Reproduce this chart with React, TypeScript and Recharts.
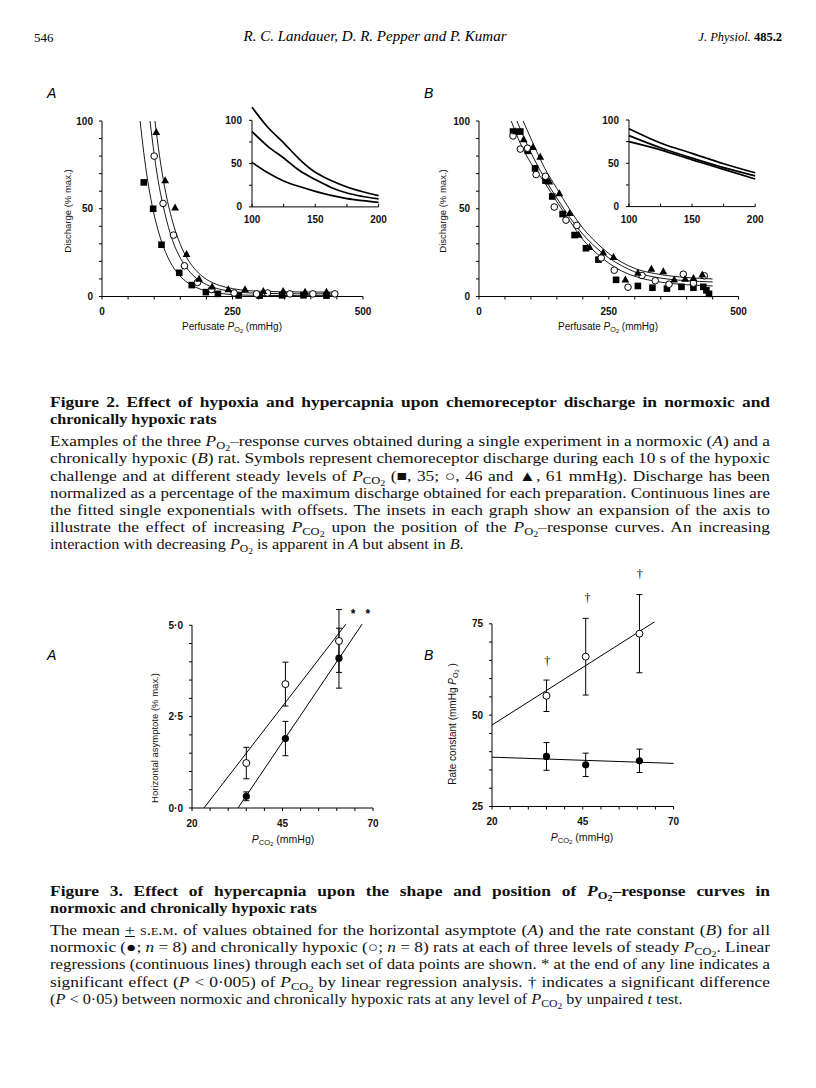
import React, { useLayoutEffect, useRef, useState } from 'react';
import { ComposedChart, Line, Scatter, XAxis, YAxis, ErrorBar, ReferenceLine } from 'recharts';

// ---- Figure 2: perfusate PO2 (mmHg) vs discharge (% max.) ----
// A: normoxic rat, symbols at PCO2 35 (squares), 46 (open circles), 61 (triangles)
const a35Points = [[80, 65], [98, 50], [114, 29.5], [148, 13.5], [172, 6.5], [199, 2.5], [222, 1.5], [262, 0.6], [302, 0.5], [345, 0.7], [386, 0.7], [430, 0.5]];
const a46Points = [[100, 80], [117, 53], [137, 35], [158, 17.5], [183, 8], [210, 4], [253, 2], [296, 1.5], [317, 2], [360, 1.5], [404, 1.5], [446, 1.5]];
const a61Points = [[104, 93.5], [121, 66], [140, 50.5], [162, 24], [186, 10], [211, 5.5], [242, 4], [274, 4], [309, 3], [347, 3], [389, 2.5], [430, 2.5]];
const a35Fit = [[73, 100], [80, 82], [87, 67], [96, 52], [105, 40.4], [114, 31.4], [130, 20], [147, 12.5], [165, 7.7], [180, 5.2], [200, 3.1], [225, 1.8], [250, 1.1], [300, 0.65], [375, 0.5], [450, 0.5]];
const a46Fit = [[92, 100], [100, 81], [110, 62], [120, 48], [135, 32], [150, 22], [165, 15.2], [180, 10.6], [200, 6.8], [225, 4.2], [250, 2.9], [300, 1.85], [375, 1.55], [450, 1.5]];
const a61Fit = [[101.5, 100], [110, 80.5], [120, 62.4], [135, 42.9], [150, 29.7], [165, 20.8], [180, 14.9], [200, 9.8], [225, 6.3], [250, 4.5], [300, 3], [375, 2.6], [450, 2.5]];
// inset A (100-200 mmHg)
const a35Inset = [[100, 51.5], [112.5, 39.5], [125, 30], [137.5, 23.5], [150, 18], [162.5, 13.3], [175, 9.6], [187.5, 7.2], [200, 5.2]];
const a46Inset = [[100, 87], [112.5, 70], [125, 56.5], [137.5, 42], [150, 31.5], [162.5, 22.5], [175, 16], [187.5, 12], [200, 9.2]];
const a61Inset = [[100, 115], [112.5, 92], [125, 74], [137.5, 55], [150, 40], [162.5, 30.5], [175, 23], [187.5, 17.5], [200, 13]];

// B: chronically hypoxic rat
const b35Points = [[65.5, 94], [79.5, 94], [94, 83], [108, 73], [128, 66], [141, 57], [161, 47], [184, 35], [206, 27.5], [230, 21], [264, 9.5], [306, 6], [334, 5], [362, 4.5], [390, 5.5], [413, 5], [432, 5.5], [438, 3.5], [443, 1.5]];
const b46Points = [[65.5, 91.5], [79.5, 84], [93.5, 84.5], [110, 69.5], [128, 68.5], [145, 51], [167.5, 43.5], [188.5, 40.5], [235.5, 22], [260.5, 15], [287, 5.3], [314, 12], [339.5, 9], [366, 7], [393.5, 12.7], [413, 7.6], [434, 11.8]];
const b61Points = [[71, 94], [86, 89.5], [104, 85], [118, 79.5], [135.5, 65.3], [154.7, 58.7], [174.5, 47.4], [192, 35], [213, 28], [239, 25], [259, 22.4], [282, 9.5], [306, 13.3], [332, 15.7], [355, 14.2], [376, 9.5], [397, 10], [413, 10.4], [430, 12.3]];
const bTopFit = [[85, 100], [100, 90], [125, 74], [150, 61.5], [175, 49.5], [200, 39], [225, 31], [250, 24.5], [275, 19.5], [300, 16], [350, 12.5], [400, 10.8], [450, 10]];
const bMidFit = [[73, 100], [100, 82], [125, 68], [150, 56], [175, 45], [200, 35.5], [225, 28], [250, 22], [275, 17.5], [300, 14], [350, 10.5], [400, 9], [450, 8.3]];
const bLowFit = [[62, 100], [80, 87], [100, 76], [125, 65.5], [150, 54], [175, 43], [200, 32.5], [225, 25], [250, 19], [275, 14.5], [300, 11.5], [350, 8.2], [400, 6.7], [450, 6]];
const bTopInset = [[100, 90], [125, 73.5], [150, 61.5], [175, 49.5], [200, 39]];
const bMidInset = [[100, 82], [125, 68], [150, 56], [175, 45], [200, 35.5]];
const bLowInset = [[100, 75], [125, 65.5], [150, 54], [175, 43], [200, 31.8]];

// ---- Figure 3: PCO2 (mmHg) ----
const pco2Levels = [35, 45.8, 60.6];
const asymHypoxic = [1.23, 3.39, 4.57];
const asymHypoxicSem = [0.43, 0.6, 0.86];
const asymNormoxic = [0.32, 1.9, 4.1];
const asymNormoxicSem = [0.12, 0.47, 0.82];
const asymHypoxicFit = [[23.3, 0], [62.5, 5.03]];
const asymNormoxicFit = [[32.7, 0], [67, 5.03]];
const asymStars = [[64.5, 5.34], [68.6, 5.34]];

const rateHypoxic = [55.3, 66.0, 72.3];
const rateHypoxicSem = [4.3, 10.5, 10.7];
const rateNormoxic = [38.7, 36.4, 37.5];
const rateNormoxicSem = [3.8, 3.2, 3.2];
const rateHypoxicFit = [[20, 47.3], [64.7, 75.5]];
const rateNormoxicFit = [[20, 38.5], [70, 36.8]];
const rateDaggers = [[35.2, 64.9], [46.3, 82], [60.7, 88.7]];

// tick values
const po2Ticks = [0, 50, 100, 150, 200, 250, 300, 350, 400, 450, 500];
const po2Labels = [0, 250, 500];
const dischargeTicks = [0, 10, 20, 30, 40, 50, 60, 70, 80, 90, 100];
const dischargeLabels = [0, 50, 100];
const insetXTicks = [100, 125, 150, 175, 200];
const insetXLabels = [100, 150, 200];
const insetYTicks = [0, 25, 50, 75, 100];
const insetYLabels = [0, 50, 100];
const pco2Ticks = [20, 25, 30, 35, 40, 45, 50, 55, 60, 65, 70];
const pco2Labels = [20, 45, 70];
const asymTicks = [0, 0.5, 1, 1.5, 2, 2.5, 3, 3.5, 4, 4.5, 5];
const asymLabels = [0, 2.5, 5];
const rateTicks = [25, 30, 35, 40, 45, 50, 55, 60, 65, 70, 75];
const rateLabels = [25, 50, 75];

const xy = (rows: number[][]) => rows.map(([x, y]) => ({ x, y }));
const withErr = (ys: number[], errs: number[]) => pco2Levels.map((x, i) => ({ x, y: ys[i], err: errs[i] }));

const SANS = '"Liberation Sans", Arial, Helvetica, sans-serif';
const SERIF = '"Liberation Serif", "Times New Roman", serif';
const tickFont = { fontFamily: SANS, fontSize: 10, fontWeight: 'bold' as const, fill: '#111' };

const PAD = { l: 40, t: 8, r: 12, b: 26 };
function frame(x0: number, y0: number, x1: number, y1: number) {
  return {
    style: { position: 'absolute' as const, left: x0 - PAD.l, top: y0 - PAD.t },
    width: x1 - x0 + PAD.l + PAD.r,
    height: y1 - y0 + PAD.t + PAD.b,
    margin: { top: PAD.t, right: PAD.r, left: 0, bottom: 0 },
  };
}

const fmtDot = (v: number) => v.toFixed(1).replace('.', '\u00b7');
const fmtInt = (v: number) => String(v);

function yTick(labels: number[], fmt: (v: number) => string, gap = 9) {
  return (p: any) => {
    const v = p.payload.value;
    return (
      <g>
        <line x1={p.x} x2={p.x - 3} y1={p.y} y2={p.y} stroke="#000" strokeWidth={1} />
        {labels.includes(v) && (
          <text x={p.x - gap} y={p.y} dy={3.6} textAnchor="end" style={tickFont}>{fmt(v)}</text>
        )}
      </g>
    );
  };
}
function xTick(labels: number[], fmt: (v: number) => string, len = 3, gap = 14.5) {
  return (p: any) => {
    const v = p.payload.value;
    return (
      <g>
        <line x1={p.x} x2={p.x} y1={p.y} y2={p.y + len} stroke="#000" strokeWidth={1} />
        {labels.includes(v) && (
          <text x={p.x} y={p.y + gap} dy={3.6} textAnchor="middle" style={tickFont}>{fmt(v)}</text>
        )}
      </g>
    );
  };
}

const Square = (p: any) => <rect x={p.cx - 3.3} y={p.cy - 3.3} width={6.6} height={6.6} fill="#000" />;
const Ring = (p: any) => <circle cx={p.cx} cy={p.cy} r={3.3} fill="#fff" stroke="#000" strokeWidth={1} />;
const Tri = (p: any) => <path d={`M${p.cx},${p.cy - 4.3}L${p.cx + 3.9},${p.cy + 2.7}L${p.cx - 3.9},${p.cy + 2.7}Z`} fill="#000" />;
const BigRing = (p: any) => <circle cx={p.cx} cy={p.cy} r={3.5} fill="#fff" stroke="#000" strokeWidth={1} />;
const BigDot = (p: any) => <circle cx={p.cx} cy={p.cy} r={3.6} fill="#000" />;
const Star = (p: any) => <text x={p.cx} y={p.cy} dy={5} textAnchor="middle" fill="#000" style={{ fontFamily: SANS, fontSize: 12, fontWeight: 'bold' }}>*</text>;
const Dagger = (p: any) => <text x={p.cx} y={p.cy} dy={4} textAnchor="middle" fill="#000" style={{ fontFamily: SERIF, fontSize: 12 }}>{'\u2020'}</text>;

function fitLine(rows: number[][], width = 1) {
  return <Line data={xy(rows)} dataKey="y" type="monotone" stroke="#000" strokeWidth={width} dot={false} isAnimationActive={false} />;
}

function DischargePanel({ x0, x1, fits, squares, rings, tris }: any) {
  const f = frame(x0, 121, x1, 296.5);
  return (
    <div style={f.style}>
      <ComposedChart width={f.width} height={f.height} margin={f.margin}>
        <XAxis dataKey="x" type="number" domain={[0, 500]} ticks={po2Ticks} interval={0} height={PAD.b}
          tickSize={0} tickMargin={0} tickLine={false} axisLine={{ stroke: '#000' }} tick={xTick(po2Labels, fmtInt)} />
        <YAxis dataKey="y" type="number" domain={[0, 100]} ticks={dischargeTicks} interval={0} width={PAD.l}
          tickSize={0} tickMargin={0} tickLine={false} axisLine={{ stroke: '#000' }} tick={yTick(dischargeLabels, fmtInt)} />
        {fits.map((r: number[][], i: number) => <React.Fragment key={i}>{fitLine(r, 0.9)}</React.Fragment>)}
        <Scatter data={xy(squares)} dataKey="y" shape={Square} isAnimationActive={false} />
        <Scatter data={xy(rings)} dataKey="y" shape={Ring} isAnimationActive={false} />
        <Scatter data={xy(tris)} dataKey="y" shape={Tri} isAnimationActive={false} />
      </ComposedChart>
    </div>
  );
}

function InsetPanel({ x0, x1, yTop, yBottom, yMax, fits }: any) {
  const f = frame(x0, yTop, x1, yBottom);
  return (
    <div style={f.style}>
      <ComposedChart width={f.width} height={f.height} margin={f.margin}>
        <XAxis dataKey="x" type="number" domain={[100, 200]} ticks={insetXTicks} interval={0} height={PAD.b}
          tickSize={0} tickMargin={0} tickLine={false} axisLine={{ stroke: '#000' }} tick={xTick(insetXLabels, fmtInt, -3, 13)} />
        <YAxis dataKey="y" type="number" domain={[0, yMax]} ticks={insetYTicks} interval={0} width={PAD.l}
          tickSize={0} tickMargin={0} tickLine={false} axisLine={false} tick={yTick(insetYLabels, fmtInt, 10)} />
        <ReferenceLine segment={[{ x: 100, y: 0 }, { x: 100, y: 100 }]} stroke="#000" strokeWidth={1} />
        {fits.map((r: number[][], i: number) => <React.Fragment key={i}>{fitLine(r, 1.7)}</React.Fragment>)}
      </ComposedChart>
    </div>
  );
}

function Pco2Panel({ x0, x1, yTop, yBottom, domain, ticks, labels, fmt, axisTop, hyp, norm, hypFit, normFit, marks, markShape }: any) {
  const f = frame(x0, yTop, x1, yBottom);
  return (
    <div style={f.style}>
      <ComposedChart width={f.width} height={f.height} margin={f.margin}>
        <XAxis dataKey="x" type="number" domain={[20, 70]} ticks={pco2Ticks} interval={0} height={PAD.b}
          tickSize={0} tickMargin={0} tickLine={false} axisLine={{ stroke: '#000' }} tick={xTick(pco2Labels, fmtInt, 3, 15)} />
        <YAxis dataKey="y" type="number" domain={domain} ticks={ticks} interval={0} width={PAD.l}
          tickSize={0} tickMargin={0} tickLine={false} axisLine={false} tick={yTick(labels, fmt)} />
        <ReferenceLine segment={[{ x: 20, y: domain[0] }, { x: 20, y: axisTop }]} stroke="#000" strokeWidth={1} />
        {fitLine(hypFit, 1)}
        {fitLine(normFit, 1)}
        <Scatter data={hyp} dataKey="y" shape={BigRing} isAnimationActive={false}>
          <ErrorBar dataKey="err" direction="y" width={3} stroke="#000" strokeWidth={1} />
        </Scatter>
        <Scatter data={norm} dataKey="y" shape={BigDot} isAnimationActive={false}>
          <ErrorBar dataKey="err" direction="y" width={3} stroke="#000" strokeWidth={1} />
        </Scatter>
        <Scatter data={xy(marks)} dataKey="y" shape={markShape} isAnimationActive={false} />
      </ComposedChart>
    </div>
  );
}

const subS: React.CSSProperties = { fontSize: '0.72em', verticalAlign: '-0.3em', lineHeight: 0, fontStyle: 'normal' };
const sub2S: React.CSSProperties = { fontSize: '0.8em', verticalAlign: '-0.2em', lineHeight: 0 };
const PO2 = () => <><i>P</i><span style={subS}>O<span style={sub2S}>2</span></span></>;
const PCO2 = () => <><i>P</i><span style={subS}>CO<span style={sub2S}>2</span></span></>;

function Abs({ x, y, children, style }: any) {
  return <div style={{ position: 'absolute', left: x, top: y, whiteSpace: 'nowrap', ...style }}>{children}</div>;
}
function AxisTitle({ cx, cy, rotate, size = 9.5, children }: any) {
  return (
    <div style={{
      position: 'absolute', left: cx, top: cy, whiteSpace: 'nowrap', fontFamily: SANS, fontSize: size, color: '#111',
      lineHeight: 1, transform: `translate(-50%, -50%)${rotate ? ' rotate(-90deg)' : ''}`,
    }}>{children}</div>
  );
}

// caption line: measured once, stretched a little (the print face is wider), then justified to 720px
function CapLine({ y, bold, last, children }: any) {
  const ref = useRef<HTMLSpanElement>(null);
  const [fit, setFit] = useState<{ sx: number; ws: number } | null>(null);
  useLayoutEffect(() => {
    if (!ref.current) return;
    const w = ref.current.getBoundingClientRect().width;
    if (last) { setFit({ sx: 1.12, ws: 0 }); return; }
    const spaces = ((ref.current.textContent || '').match(/ /g) || []).length || 1;
    const sx = Math.min(1.2, 720 / w);
    setFit({ sx, ws: (720 / sx - w) / spaces });
  }, []);
  return (
    <div style={{
      position: 'absolute', left: 50, top: y - 9, height: 18, lineHeight: '18px', whiteSpace: 'nowrap',
      fontFamily: SERIF, fontSize: 14.5, fontWeight: bold ? 'bold' : 'normal', color: '#111',
    }}>
      <span ref={ref} style={{
        display: 'inline-block', transformOrigin: '0 50%',
        transform: fit ? `scaleX(${fit.sx})` : undefined, wordSpacing: fit ? fit.ws : 0,
      }}>
        {children}
      </span>
    </div>
  );
}

export default function App() {
  return (
    <div style={{ position: 'absolute', left: 0, top: 0, width: 816, height: 1088, background: '#fff', overflow: 'hidden' }}>
      {/* running head */}
      <Abs x={34} y={30} style={{ fontFamily: SERIF, fontSize: 13 }}>546</Abs>
      <Abs x={375} y={28} style={{ fontFamily: SERIF, fontSize: 15, fontStyle: 'italic', transform: 'translateX(-50%)' }}>
        R. C. Landauer, D. R. Pepper and P. Kumar
      </Abs>
      <div style={{ position: 'absolute', right: 34, top: 30, fontFamily: SERIF, fontSize: 12.5, whiteSpace: 'nowrap' }}>
        <i>J. Physiol.</i> <b>485.2</b>
      </div>

      {/* Figure 2 */}
      <Abs x={47} y={85} style={{ fontFamily: SANS, fontSize: 14, fontStyle: 'italic' }}>A</Abs>
      <Abs x={424} y={85} style={{ fontFamily: SANS, fontSize: 14, fontStyle: 'italic' }}>B</Abs>
      <DischargePanel x0={102} x1={363} fits={[a35Fit, a46Fit, a61Fit]} squares={a35Points} rings={a46Points} tris={a61Points} />
      <InsetPanel x0={251.7} x1={378.3} yTop={103.4} yBottom={207.3} yMax={120} fits={[a35Inset, a46Inset, a61Inset]} />
      <DischargePanel x0={478.7} x1={738.3} fits={[bLowFit, bMidFit, bTopFit]} squares={b35Points} rings={b46Points} tris={b61Points} />
      <InsetPanel x0={628.5} x1={754.7} yTop={119.7} yBottom={206.3} yMax={100} fits={[bLowInset, bMidInset, bTopInset]} />
      <AxisTitle cx={68} cy={211} rotate>Discharge (% max.)</AxisTitle>
      <AxisTitle cx={443} cy={211} rotate>Discharge (% max.)</AxisTitle>
      <AxisTitle cx={232} cy={327} size={10}>Perfusate <PO2 /> (mmHg)</AxisTitle>
      <AxisTitle cx={608} cy={327} size={10}>Perfusate <PO2 /> (mmHg)</AxisTitle>

      <CapLine y={402} bold>Figure 2. Effect of hypoxia and hypercapnia upon chemoreceptor discharge in normoxic and</CapLine>
      <CapLine y={419} bold last>chronically hypoxic rats</CapLine>
      <CapLine y={441}>Examples of the three <PO2 />–response curves obtained during a single experiment in a normoxic (<i>A</i>) and a</CapLine>
      <CapLine y={458}>chronically hypoxic (<i>B</i>) rat. Symbols represent chemoreceptor discharge during each 10 s of the hypoxic</CapLine>
      <CapLine y={476}>challenge and at different steady levels of <PCO2 /> ({'\u25a0'}, 35; {'\u25cb'}, 46 and {'\u25b2'}, 61 mmHg). Discharge has been</CapLine>
      <CapLine y={493}>normalized as a percentage of the maximum discharge obtained for each preparation. Continuous lines are</CapLine>
      <CapLine y={510}>the fitted single exponentials with offsets. The insets in each graph show an expansion of the axis to</CapLine>
      <CapLine y={527}>illustrate the effect of increasing <PCO2 /> upon the position of the <PO2 />–response curves. An increasing</CapLine>
      <CapLine y={544} last>interaction with decreasing <PO2 /> is apparent in <i>A</i> but absent in <i>B</i>.</CapLine>

      {/* Figure 3 */}
      <Abs x={47} y={647} style={{ fontFamily: SANS, fontSize: 14, fontStyle: 'italic' }}>A</Abs>
      <Abs x={424} y={647} style={{ fontFamily: SANS, fontSize: 14, fontStyle: 'italic' }}>B</Abs>
      <Pco2Panel x0={192.3} x1={373.3} yTop={606.7} yBottom={807.7} domain={[0, 5.5]} ticks={asymTicks} labels={asymLabels}
        fmt={fmtDot} axisTop={5} hyp={withErr(asymHypoxic, asymHypoxicSem)} norm={withErr(asymNormoxic, asymNormoxicSem)}
        hypFit={asymHypoxicFit} normFit={asymNormoxicFit} marks={asymStars} markShape={Star} />
      <Pco2Panel x0={491.7} x1={673.3} yTop={569.2} yBottom={806.7} domain={[25, 90]} ticks={rateTicks} labels={rateLabels}
        fmt={fmtInt} axisTop={75} hyp={withErr(rateHypoxic, rateHypoxicSem)} norm={withErr(rateNormoxic, rateNormoxicSem)}
        hypFit={rateHypoxicFit} normFit={rateNormoxicFit} marks={rateDaggers} markShape={Dagger} />
      <AxisTitle cx={155} cy={738} rotate size={9.5}>Horizontal asymptote (% max.)</AxisTitle>
      <AxisTitle cx={453} cy={724} rotate size={10}>Rate constant (mmHg <PO2 /> )</AxisTitle>
      <AxisTitle cx={283} cy={839} size={10.5}><PCO2 /> (mmHg)</AxisTitle>
      <AxisTitle cx={582} cy={837} size={10.5}><PCO2 /> (mmHg)</AxisTitle>

      <CapLine y={891} bold>Figure 3. Effect of hypercapnia upon the shape and position of <PO2 />–response curves in</CapLine>
      <CapLine y={908} bold last>normoxic and chronically hypoxic rats</CapLine>
      <CapLine y={930}>The mean <u>+</u> <span style={{ fontVariant: 'small-caps' }}>s.e.m.</span> of values obtained for the horizontal asymptote (<i>A</i>) and the rate constant (<i>B</i>) for all</CapLine>
      <CapLine y={947}>normoxic ({'\u25cf'}; <i>n</i> = 8) and chronically hypoxic ({'\u25cb'}; <i>n</i> = 8) rats at each of three levels of steady <PCO2 />. Linear</CapLine>
      <CapLine y={964}>regressions (continuous lines) through each set of data points are shown. * at the end of any line indicates a</CapLine>
      <CapLine y={982}>significant effect (<i>P</i> &lt; 0·005) of <PCO2 /> by linear regression analysis. † indicates a significant difference</CapLine>
      <CapLine y={999} last>(<i>P</i> &lt; 0·05) between normoxic and chronically hypoxic rats at any level of <PCO2 /> by unpaired <i>t</i> test.</CapLine>
    </div>
  );
}
